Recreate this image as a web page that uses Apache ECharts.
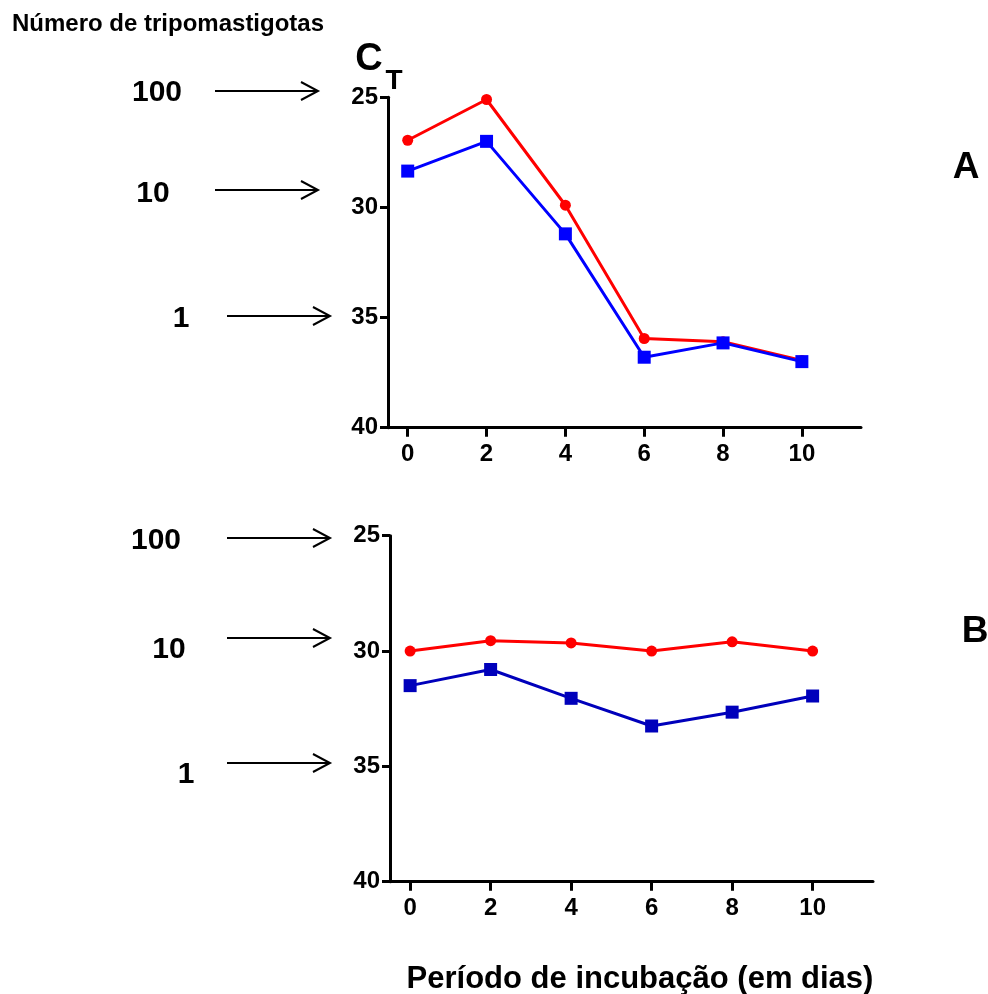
<!DOCTYPE html>
<html>
<head>
<meta charset="utf-8">
<script src="https://cdn.jsdelivr.net/npm/echarts@6/dist/echarts.min.js"></script>
<style>html,body{margin:0;padding:0;background:#fff;}#c{width:988px;height:994px;}</style>
</head>
<body>
<div id="c"></div>
<script>
// ---- data ----
const days = [0, 2, 4, 6, 8, 10];
const xTickLabels = [0, 2, 4, 6, 8, 10];
const yTickLabels = [25, 30, 35, 40];
const panelA_red  = [26.95, 25.1, 29.9, 35.95, 36.1, 36.95];
const panelA_blue = [28.35, 27.0, 31.2, 36.8, 36.15, 37.0];
const panelB_red  = [30.0, 29.55, 29.65, 30.0, 29.6, 30.0];
const panelB_blue = [31.5, 30.8, 32.05, 33.25, 32.65, 31.95];
const parasiteLabels = ['100', '10', '1'];
const panelLabels = ['A', 'B'];
const yTitleMain = 'C';
const yTitleSub = 'T';
const topTitle = 'Número de tripomastigotas';
const xTitle = 'Período de incubação (em dias)';

const FF = '"Liberation Sans", Arial, Helvetica, sans-serif';
const pair = (vals) => days.map((d, i) => [d, vals[i]]);

function xAxisCfg(gi) {
  return {
    type: 'value', gridIndex: gi, min: -0.5, max: 11.5,
    axisLine: { onZero: false, lineStyle: { color: '#000', width: 3 } },
    axisTick: { show: true, customValues: xTickLabels, length: 9, lineStyle: { color: '#000', width: 3 } },
    axisLabel: { customValues: xTickLabels, color: '#000', fontFamily: FF, fontWeight: 'bold', fontSize: 24, margin: 15 },
    splitLine: { show: false }
  };
}
function yAxisCfg(gi) {
  return {
    type: 'value', gridIndex: gi, min: yTickLabels[0], max: yTickLabels[yTickLabels.length - 1], interval: 5, inverse: true,
    axisLine: { show: true, onZero: false, lineStyle: { color: '#000', width: 3 } },
    axisTick: { show: true, length: 8, lineStyle: { color: '#000', width: 3 } },
    axisLabel: { color: '#000', fontFamily: FF, fontWeight: 'bold', fontSize: 24, margin: 10 },
    splitLine: { show: false }
  };
}
function series(gi, vals, color, symbol, size) {
  return {
    type: 'line', xAxisIndex: gi, yAxisIndex: gi, data: pair(vals),
    symbol: symbol, symbolSize: size, showSymbol: true,
    lineStyle: { color: color, width: 3 }, itemStyle: { color: color },
    animation: false, z: symbol === 'circle' ? 2 : 3
  };
}

const chart = echarts.init(document.getElementById('c'), null, { renderer: 'canvas' });

function txt(x, y, text, size, align) {
  return { type: 'text', x: x, y: y, style: { text: text, font: 'bold ' + size + 'px ' + FF, fill: '#000', align: align || 'center', verticalAlign: 'middle' } };
}
function arrow(x1, x2, y) {
  return [
    { type: 'line', shape: { x1: x1, y1: y, x2: x2, y2: y }, style: { stroke: '#000', lineWidth: 2 } },
    { type: 'polyline', shape: { points: [[x2 - 17, y - 9], [x2, y], [x2 - 17, y + 9]] }, style: { stroke: '#000', lineWidth: 2, fill: null } }
  ];
}

const graphics = [
  txt(12, 24, topTitle, 24, 'left'),
  txt(369, 60, yTitleMain, 38),
  txt(394, 81, yTitleSub, 28),
  txt(966, 168, panelLabels[0], 37),
  txt(975, 632, panelLabels[1], 37),
  txt(640, 979, xTitle, 31),
  // panel A parasite labels
  txt(157, 93, parasiteLabels[0], 30),
  txt(153, 194, parasiteLabels[1], 30),
  txt(181, 319, parasiteLabels[2], 30),
  // panel B parasite labels
  txt(156, 541, parasiteLabels[0], 30),
  txt(169, 650, parasiteLabels[1], 30),
  txt(186, 775, parasiteLabels[2], 30)
].concat(
  arrow(215, 318, 91), arrow(215, 318, 190), arrow(227, 330, 316),
  arrow(227, 330, 538), arrow(227, 330, 638), arrow(227, 330, 763)
);

chart.setOption({
  animation: false,
  backgroundColor: '#fff',
  grid: [
    { left: 388, top: 97.3, width: 473, height: 330.4, containLabel: false },
    { left: 390, top: 535.7, width: 483, height: 346, containLabel: false }
  ],
  xAxis: [xAxisCfg(0), xAxisCfg(1)],
  yAxis: [yAxisCfg(0), yAxisCfg(1)],
  series: [
    series(0, panelA_red, '#ff0000', 'circle', 11),
    series(0, panelA_blue, '#0000ff', 'rect', 13),
    series(1, panelB_red, '#ff0000', 'circle', 11),
    series(1, panelB_blue, '#0000bb', 'rect', 13)
  ],
  graphic: graphics
});
</script>
</body>
</html>
